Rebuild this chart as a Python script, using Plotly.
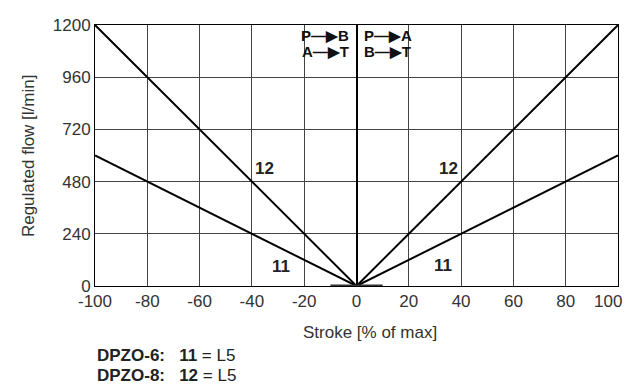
import plotly.graph_objects as go

stroke = [-100, 0, 100]
flow_12 = [1200, 0, 1200]
flow_11 = [600, 0, 600]
x_ticks = [-100, -80, -60, -40, -20, 0, 20, 40, 60, 80, 100]
y_ticks = [0, 240, 480, 720, 960, 1200]
curve_labels = [("12", -35, 540), ("12", 35, 540), ("11", -29, 90), ("11", 33, 95)]

FONT = "Liberation Sans"
fig = go.Figure()
fig.add_trace(go.Scatter(x=stroke, y=flow_12, mode="lines",
                         line=dict(color="black", width=2), showlegend=False))
fig.add_trace(go.Scatter(x=stroke, y=flow_11, mode="lines",
                         line=dict(color="black", width=2), showlegend=False))

fig.add_shape(type="line", x0=-10, x1=10, y0=0, y1=0, xref="x", yref="y",
              line=dict(color="#333", width=3))

for t, x, y in curve_labels:
    fig.add_annotation(x=x, y=y, text="<b>%s</b>" % t, showarrow=False,
                       font=dict(family=FONT, size=17, color="#222"))

arrow = "\u2014\u25B6"
for txt, x, y, anchor in [("P%sB", -2, 1154, "right"), ("A%sT", -2, 1076, "right"),
                          ("P%sA", 2, 1154, "left"), ("B%sT", 2, 1076, "left")]:
    fig.add_annotation(x=x, y=y, xanchor=anchor, text="<b>%s</b>" % (txt % arrow),
                       showarrow=False, font=dict(family=FONT, size=15, color="#111"))

# last x tick label, nudged inside the window like in the reference
tick_text = [str(v) for v in x_ticks]
last_label = tick_text[-1]
tick_text[-1] = ""
fig.add_annotation(x=x_ticks[-1], xref="x", yref="paper", y=0, yanchor="top",
                   xanchor="right", xshift=6, yshift=-4, text=last_label, showarrow=False,
                   font=dict(family=FONT, size=17, color="#333"))

# axis titles
fig.add_annotation(xref="paper", yref="paper", x=0.525, y=-0.134, yanchor="top",
                   text="Stroke [% of max]", showarrow=False,
                   font=dict(family=FONT, size=17, color="#333"))
fig.add_annotation(xref="paper", yref="paper", x=-0.149, y=0.5, textangle=-90,
                   text="Regulated flow [l/min]", showarrow=False,
                   font=dict(family=FONT, size=17, color="#333"))
# footnotes
fig.add_annotation(xref="paper", yref="paper", x=0.0, y=-0.222, xanchor="left", yanchor="top",
                   text="<b>DPZO-6:   11</b> = L5", showarrow=False,
                   font=dict(family=FONT, size=17, color="#222"))
fig.add_annotation(xref="paper", yref="paper", x=0.0, y=-0.299, xanchor="left", yanchor="top",
                   text="<b>DPZO-8:   12</b> = L5", showarrow=False,
                   font=dict(family=FONT, size=17, color="#222"))
# heading clipped by the top edge
fig.add_annotation(xref="paper", yref="paper", x=0.695, y=1.085, xanchor="right", yanchor="bottom",
                   text="Regulating diagram (at p 10, bar)", showarrow=False,
                   font=dict(family=FONT, size=17, color="#555"))

fig.update_xaxes(range=[-100, 100], tickvals=x_ticks, ticktext=tick_text,
                 showgrid=True, gridcolor="#444", gridwidth=1,
                 zeroline=True, zerolinecolor="black", zerolinewidth=2,
                 showline=True, linecolor="black", linewidth=1, mirror=True,
                 ticks="", tickfont=dict(family=FONT, size=17, color="#333"))
fig.update_yaxes(range=[0, 1200], tickvals=y_ticks, ticktext=[str(v) for v in y_ticks],
                 showgrid=True, gridcolor="#444", gridwidth=1, zeroline=False,
                 showline=True, linecolor="black", linewidth=1, mirror=True,
                 ticks="", tickfont=dict(family=FONT, size=17, color="#333"))

fig.update_layout(width=630, height=385, margin=dict(l=95, r=12, t=25, b=99),
                  plot_bgcolor="white", paper_bgcolor="white", showlegend=False)
fig.write_html("out.html")
